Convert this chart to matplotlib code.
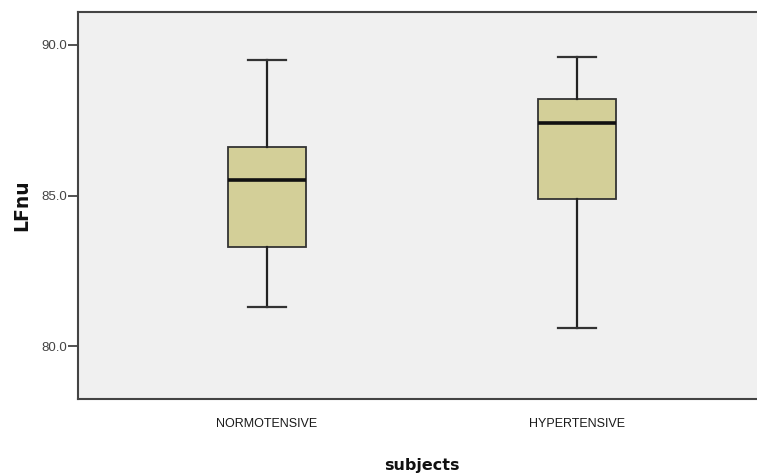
import matplotlib

matplotlib.use('agg')
import matplotlib.pyplot as plt

groups = ['NORMOTENSIVE', 'HYPERTENSIVE']
whisker_low = [81.3, 80.6]
q1 = [83.3, 84.9]
median = [85.5, 87.4]
q3 = [86.6, 88.2]
whisker_high = [89.5, 89.6]
y_ticks = [80.0, 85.0, 90.0]

arial_like = ['Liberation Sans', 'DejaVu Sans']

stats = []
for i, name in enumerate(groups):
    stats.append({'label': name, 'whislo': whisker_low[i], 'q1': q1[i], 'med': median[i],
                  'q3': q3[i], 'whishi': whisker_high[i], 'fliers': []})

fig = plt.figure(figsize=(7.57, 4.75), dpi=100)
ax = fig.add_axes([0.103, 0.16, 0.909, 0.815])
ax.set_facecolor('#f0f0f0')

ax.bxp(stats, positions=[1, 2], widths=0.25, patch_artist=True, showfliers=False,
       boxprops=dict(facecolor='#d3cf98', edgecolor='#333333', linewidth=1.3),
       medianprops=dict(color='#111111', linewidth=2.6),
       whiskerprops=dict(color='#222222', linewidth=1.6),
       capprops=dict(color='#333333', linewidth=1.6), capwidths=0.125)

ax.set_xlim(0.39, 2.61)
ax.set_ylim(78.24, 91.1)
ax.set_yticks(y_ticks)
ax.set_yticklabels(['%.1f' % v for v in y_ticks], family=arial_like, fontsize=9.5, color='#444444')
ax.set_xticks([1, 2])
ax.set_xticklabels(groups, family=arial_like, fontsize=9, color='#1a1a1a')
ax.tick_params(axis='x', length=0, pad=14)
ax.tick_params(axis='y', length=7, width=1.3, color='#444444', pad=1)

for side in ['left', 'bottom', 'top']:
    ax.spines[side].set_color('#444444')
    ax.spines[side].set_linewidth(1.5)
ax.spines['right'].set_visible(False)

ax.set_ylabel('LFnu', fontsize=13.5, fontweight='bold', labelpad=7, color='#111111')
ax.set_xlabel('subjects', fontsize=11.5, fontweight='bold', labelpad=20, color='#111111')

plt.savefig('out.png', dpi=100)
